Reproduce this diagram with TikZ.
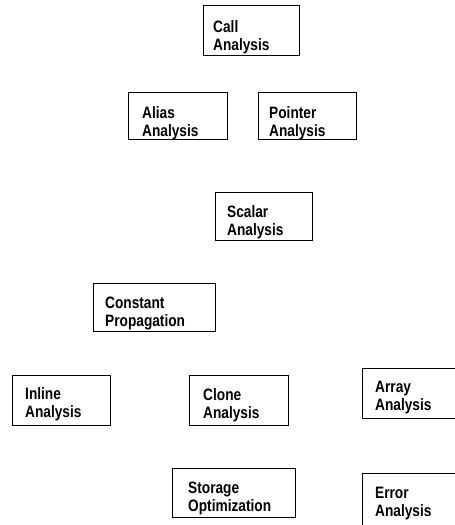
\documentclass[tikz,border=0pt]{standalone}
\usepackage{fontspec}
\setmainfont{Liberation Sans}[FakeStretch=0.83]
\usetikzlibrary{fit}
\begin{document}
\begin{tikzpicture}[x=1bp,y=-1bp,
  box/.style={draw=black,line width=0.8bp,inner sep=0pt},
  lbl/.style={anchor=base west,inner sep=0pt,font=\bfseries\fontsize{16.5bp}{18bp}\selectfont}]
\useasboundingbox (0,0) rectangle (455,525);
\clip (0,0) rectangle (455,525);
% boxes
\node[box,fit={(203,5) (299,55)}] (call) {};
\node[box,fit={(128,92) (227,139)}] (alias) {};
\node[box,fit={(258,92) (356,139)}] (pointer) {};
\node[box,fit={(215,192) (312,240)}] (scalar) {};
\node[box,fit={(93,283) (215,331)}] (constant) {};
\node[box,fit={(12,375) (110,425)}] (inline) {};
\node[box,fit={(189,375) (288,425)}] (clone) {};
\node[box,fit={(362,368) (470,418)}] (array) {};
\node[box,fit={(172,468) (295,517)}] (storage) {};
\node[box,fit={(362,473) (470,540)}] (error) {};
% labels
\node[lbl] (callA) at (213,33) {Call};
\node[lbl] (callB) at (213,51) {Analysis};
\node[lbl] (aliasA) at (142,119) {Alias};
\node[lbl] (aliasB) at (142,137) {Analysis};
\node[lbl] (pointerA) at (269,119) {Pointer};
\node[lbl] (pointerB) at (269,137) {Analysis};
\node[lbl] (scalarA) at (227,217) {Scalar};
\node[lbl] (scalarB) at (227,235) {Analysis};
\node[lbl] (constantA) at (105,308) {Constant};
\node[lbl] (constantB) at (105,326) {Propagation};
\node[lbl] (inlineA) at (25,399) {Inline};
\node[lbl] (inlineB) at (25,417) {Analysis};
\node[lbl] (cloneA) at (203,400) {Clone};
\node[lbl] (cloneB) at (203,418) {Analysis};
\node[lbl] (arrayA) at (375,392) {Array};
\node[lbl] (arrayB) at (375,410) {Analysis};
\node[lbl] (storageA) at (188,493) {Storage};
\node[lbl] (storageB) at (188,511) {Optimization};
\node[lbl] (errorA) at (375,498) {Error};
\node[lbl] (errorB) at (375,516) {Analysis};
\end{tikzpicture}
\end{document}
